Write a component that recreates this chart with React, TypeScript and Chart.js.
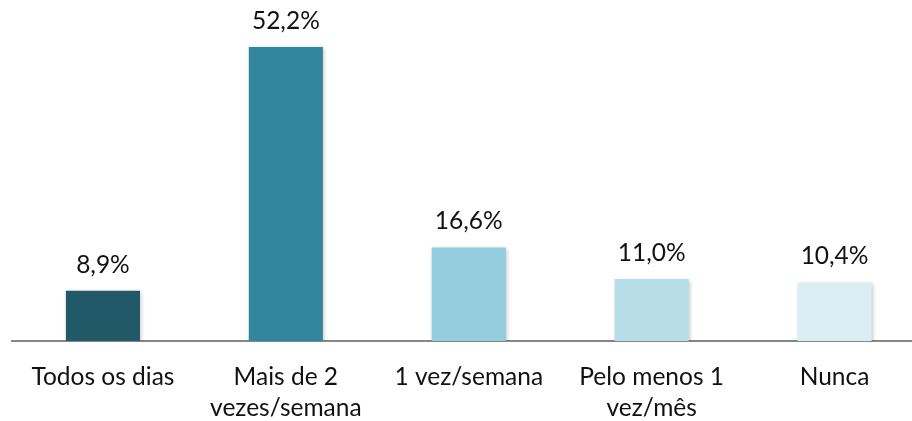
import React, { useEffect, useRef } from "react";
import { Chart, registerables } from "chart.js";

Chart.register(...registerables);

const categories: (string | string[])[] = [
  "Todos os dias",
  ["Mais de 2", "vezes/semana"],
  "1 vez/semana",
  ["Pelo menos 1", "vez/mês"],
  "Nunca",
];
const values = [8.9, 52.2, 16.6, 11.0, 10.4];
const valueLabels = ["8,9%", "52,2%", "16,6%", "11,0%", "10,4%"];
const barColors = ["#215968", "#31859C", "#93CDDD", "#B7DEE8", "#DBEEF4"];

const FONT = "Lato, 'Noto Sans', sans-serif";
const FSIZE = 24.5;

export default function App() {
  const ref = useRef<HTMLCanvasElement | null>(null);

  useEffect(() => {
    if (!ref.current) return;
    const shadowPlugin = {
      id: "barShadow",
      beforeDatasetsDraw(chart: any) {
        const ctx = chart.ctx;
        ctx.save();
        ctx.shadowColor = "rgba(0,0,0,0.22)";
        ctx.shadowBlur = 4;
        ctx.shadowOffsetX = 1.5;
        ctx.shadowOffsetY = 1.5;
      },
      afterDatasetsDraw(chart: any) {
        chart.ctx.restore();
        const ctx = chart.ctx;
        const meta = chart.getDatasetMeta(0);
        ctx.save();
        ctx.font = `${FSIZE}px ${FONT}`;
        ctx.fillStyle = "#111";
        ctx.textAlign = "center";
        ctx.textBaseline = "alphabetic";
        meta.data.forEach((bar: any, i: number) => {
          ctx.fillText(valueLabels[i], bar.x, bar.y - 18);
        });
        ctx.restore();
      },
    };
    const chart = new Chart(ref.current, {
      type: "bar",
      data: {
        labels: categories,
        datasets: [
          {
            data: values,
            backgroundColor: barColors,
            borderWidth: 0,
            barPercentage: 0.405,
            categoryPercentage: 1,
          },
        ],
      },
      options: {
        animation: false,
        responsive: true,
        maintainAspectRatio: false,
        layout: { padding: { left: 11.5, right: 0, top: 3, bottom: 0 } },
        plugins: {
          legend: { display: false },
          tooltip: { enabled: false },
        },
        scales: {
          x: {
            grid: { display: false, drawTicks: false },
            border: { display: true, color: "#868686", width: 2 },
            ticks: {
              color: "#111",
              padding: 20.5,
              maxRotation: 0,
              autoSkip: false,
              font: { family: FONT, size: FSIZE, lineHeight: 1.26 },
            },
            afterFit(axis: any) {
              axis.height = 80;
            },
          },
          y: {
            display: false,
            min: 0,
            max: 60,
          },
        },
      },
      plugins: [shadowPlugin],
    });
    return () => chart.destroy();
  }, []);

  return (
    <div
      style={{
        position: "fixed",
        left: 0,
        top: 0,
        width: 912,
        height: 421,
        overflow: "hidden",
        background: "#fff",
      }}
    >
      <div style={{ position: "relative", width: 926, height: 421 }}>
        <canvas ref={ref} />
      </div>
    </div>
  );
}
